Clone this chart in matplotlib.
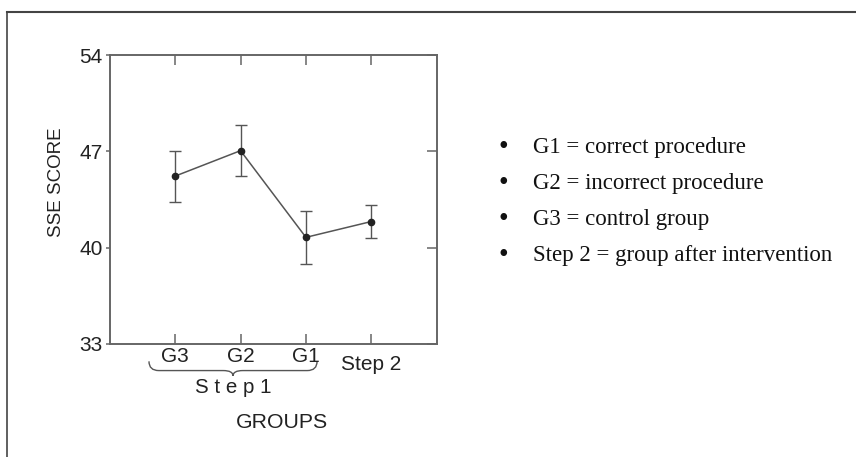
import numpy as np
import matplotlib
matplotlib.use("Agg")
import matplotlib.pyplot as plt
from matplotlib.path import Path
from matplotlib.patches import PathPatch
import matplotlib.transforms as mtransforms

# Mean SSE score per group, with error bar half-widths
groups = ["G3", "G2", "G1", "Step 2"]
means = [45.2, 47.05, 40.75, 41.9]
errors = [1.85, 1.85, 1.95, 1.2]
yticks = [33, 40, 47, 54]

notes = ["G1 = correct procedure",
         "G2 = incorrect procedure",
         "G3 = control group",
         "Step 2 = group after intervention"]

plt.rcParams['font.family'] = ['Liberation Sans', 'DejaVu Sans']

fig = plt.figure(figsize=(8.56, 4.57), dpi=100)
ax = fig.add_axes([0.1282, 0.2473, 0.382, 0.6323])

x = np.arange(1, len(groups) + 1)
ax.errorbar(x, means, yerr=errors, color='#555555', lw=1.1,
            ecolor='#555555', elinewidth=1.0, capsize=4, capthick=1.0,
            marker='o', ms=4.5, mfc='#222222', mec='#222222', zorder=3)

ax.set_xlim(0, 5)
ax.set_ylim(33, 54)
ax.set_xticks(x)
ax.set_xticklabels(groups, fontsize=15, color='#222222')
ax.set_yticks(yticks)
ax.set_yticklabels([str(v) for v in yticks], fontsize=15, color='#222222')

for sp in ax.spines.values():
    sp.set_color('#666666')
    sp.set_linewidth(1.4)

ax.tick_params(axis='x', direction='in', length=7, width=1.1,
               color='#666666', top=True, pad=2)
ax.tick_params(axis='y', direction='out', length=3, width=1.1,
               color='#666666', pad=2)
# right-hand ticks point inwards
ax2 = ax.secondary_yaxis('right')
ax2.set_yticks(yticks)
ax2.set_yticklabels([])
ax2.tick_params(direction='in', length=7, width=1.1, color='#666666')
ax2.spines['right'].set_visible(False)

# push the "Step 2" label down a little
lab = ax.get_xticklabels()[3]
lab.set_transform(lab.get_transform() +
                  mtransforms.ScaledTranslation(0, -0.08, fig.dpi_scale_trans))

ax.set_ylabel("SSE SCORE", fontsize=13.5, color='#222222')
ax.yaxis.set_label_coords(-0.136, 0.56)

# brace under G3..G1
trans = mtransforms.blended_transform_factory(ax.transData, ax.transAxes)
x0, x1 = 0.60, 3.17
xm = (x0 + x1) / 2
yt, ym, yp = -0.060, -0.092, -0.110
verts = [(x0, yt), (x0, ym), (x0 + 0.15, ym),
         (xm - 0.15, ym), (xm, ym), (xm, yp),
         (xm, ym), (xm + 0.15, ym),
         (x1 - 0.15, ym), (x1, ym), (x1, yt)]
codes = [Path.MOVETO, Path.CURVE3, Path.CURVE3,
         Path.LINETO, Path.CURVE3, Path.CURVE3,
         Path.CURVE3, Path.CURVE3,
         Path.LINETO, Path.CURVE3, Path.CURVE3]
ax.add_patch(PathPatch(Path(verts, codes), fc='none', ec='#555555',
                       lw=1.0, transform=trans, clip_on=False))

ax.text(xm, -0.152, "S t e p 1", transform=trans, ha='center', va='center',
        fontsize=14.8, color='#222222')
ax.text(2.64, -0.27, "GROUPS", transform=trans, ha='center', va='center',
        fontsize=15.3, color='#222222')

# notes on the right
for i, s in enumerate(notes):
    yy = 1 - (147 + i * 36.3) / 457
    fig.text(503 / 856, yy, u"\u2022", ha='center', va='center',
             fontsize=20, family='Liberation Serif', color='#111111')
    fig.text(533 / 856, yy, s, ha='left', va='center',
             fontsize=16.5, family='Liberation Serif', color='#111111')

# outer frame (top and left edges)
fig.add_artist(plt.Line2D([7 / 856, 1], [1 - 12 / 457, 1 - 12 / 457],
                          color='#444444', lw=1.5))
fig.add_artist(plt.Line2D([7 / 856, 7 / 856], [0, 1 - 12 / 457],
                          color='#444444', lw=1.2))

fig.savefig("out.png", dpi=100)
